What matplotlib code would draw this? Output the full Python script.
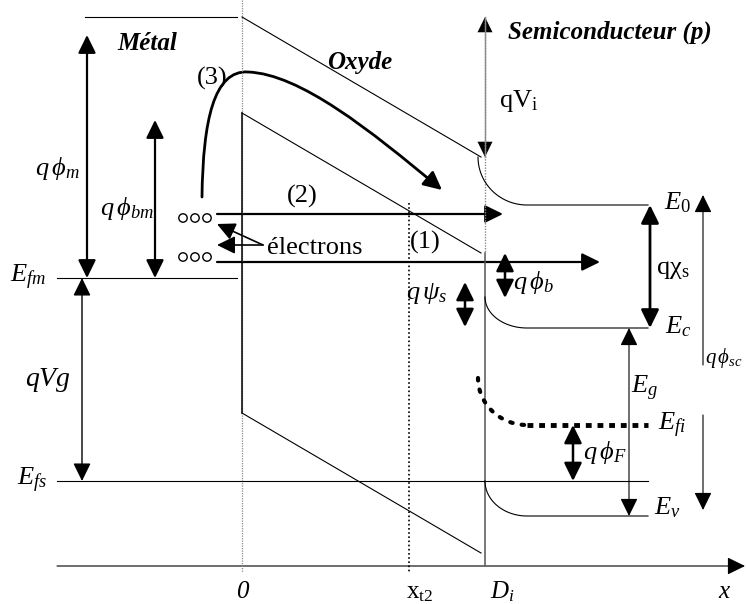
import numpy as np
import matplotlib
matplotlib.use("Agg")
import matplotlib.pyplot as plt
from matplotlib.patches import FancyArrowPatch
from matplotlib.path import Path

plt.rcParams["font.family"] = ["Liberation Serif", "DejaVu Serif"]
plt.rcParams["mathtext.fontset"] = "custom"
plt.rcParams["mathtext.rm"] = "Liberation Serif"
plt.rcParams["mathtext.it"] = "Liberation Serif:italic"
plt.rcParams["mathtext.bf"] = "Liberation Serif:bold"

# diagram coordinates (pixels, y going down)
x_int = [242, 485]          # metal/oxyde, oxyde/semiconducteur
x_t2 = 409
x_sc_end = 648
bend_width = 42

# metal
E_vac_metal = 17
E_fm = 278
E_fs = 481
# oxyde band edges at x=0 and x=Di
ox_top = [17, 157]
ox_mid = [113, 253]
ox_low = [413, 553]
# semiconductor levels : (value at interface, value in bulk)
sc_names = ["E0", "Ec", "Efi", "Ev"]
sc_surface = [157, 297, 378, 481]
sc_bulk = [205, 328, 425, 516]

# transport paths (2) and (1)
path_y = [214, 262]
path_end = [503, 600]

FS = 19
HEAD = "head_length=0.55,head_width=0.27"

fig = plt.figure(figsize=(7.47, 6.04), dpi=100)
ax = fig.add_axes([0, 0, 1, 1])
ax.set_xlim(0, 747)
ax.set_ylim(604, 0)
ax.axis("off")


def arrow(x0, y0, x1, y1, lw=1.0, both=False, color="k"):
    style = ("<|-|>," if both else "-|>,") + HEAD
    a = FancyArrowPatch((x0, y0), (x1, y1), arrowstyle=style, mutation_scale=20,
                        lw=lw, color=color, shrinkA=0, shrinkB=0)
    ax.add_patch(a)


def line(xs, ys, **kw):
    kw.setdefault("color", "k")
    kw.setdefault("lw", 0.8)
    ax.plot(xs, ys, **kw)


# guide lines
line([x_int[0], x_int[0]], [0, 572], color="#8a8a8a", lw=0.9, ls=(0, (1, 1)))
line([x_int[1], x_int[1]], [17, ox_mid[1]], color="#8a8a8a", lw=1.0, ls=(0, (1, 1)))
line([x_int[1], x_int[1]], [ox_mid[1], 565], color="#555555", lw=1.1)
line([x_t2, x_t2], [203, 573], lw=1.2, ls=(0, (1, 1.5)))

# metal
line([85, 237], [E_vac_metal] * 2)
line([57, 237], [E_fm] * 2)
line([57, x_sc_end], [E_fs] * 2)
line([x_int[0], x_int[0]], [ox_mid[0], ox_low[0]], lw=1.1)

# oxyde
for lv in (ox_top, ox_mid, ox_low):
    line([x_int[0], x_int[1] - 4], lv)

# semiconductor bands
th = np.linspace(0, np.pi / 2, 40)
for name, ys, yb in zip(sc_names, sc_surface, sc_bulk):
    x0 = x_int[1] - (7 if name in ("E0", "Efi") else 0)
    xs = x0 + (x_int[1] + bend_width - x0) * (1 - np.cos(th))
    ycurve = ys + (yb - ys) * np.sin(th)
    xs = np.r_[xs, x_sc_end]
    ycurve = np.r_[ycurve, yb]
    if name == "Efi":
        line(xs[:-1], ycurve[:-1], lw=3, ls=(0, (0.6, 2.2)), dash_capstyle="round")
        line([xs[-2], x_sc_end], [yb, yb], lw=3.5, ls=(0, (1.2, 1.2)))
    else:
        line(xs, ycurve)

# x axis
arrow(57, 566, 745, 566, lw=0.8)

# electrons
for yy in (218, 257):
    for xc in (183, 195, 207):
        ax.add_patch(plt.Circle((xc, yy), 4.2, fill=False, lw=1.0, color="k"))

# paths (2) and (1)
for yy, xe in zip(path_y, path_end):
    arrow(217, yy, xe, yy, lw=1.6)

# path (3)
verts = [(202, 197), (203, 120), (214, 70), (248, 72),
         (300, 74), (370, 130), (442, 190)]
codes = [Path.MOVETO, Path.CURVE4, Path.CURVE4, Path.CURVE4,
         Path.CURVE4, Path.CURVE4, Path.CURVE4]
p3 = FancyArrowPatch(path=Path(verts, codes), arrowstyle="-|>," + HEAD,
                     mutation_scale=20, lw=2.0, color="k")
ax.add_patch(p3)

# electrons pointer
arrow(263, 245, 217, 224, lw=1.2)
arrow(263, 245, 217, 245, lw=1.2)

# energy arrows
arrow(87, 35, 87, E_fm, lw=1.6, both=True)
arrow(155, 120, 155, E_fm, lw=1.6, both=True)
arrow(82, E_fm, 82, E_fs, lw=1.0, both=True)
line([x_int[1]] * 2, [17, 157], color="#8a8a8a", lw=1.0)
arrow(x_int[1], 34, x_int[1], 17, lw=0)
arrow(x_int[1], 140, x_int[1], 157, lw=0)
arrow(650, sc_bulk[0], 650, sc_bulk[1], lw=2.0, both=True)
arrow(703, 365, 703, 195, lw=0.8)
arrow(703, 415, 703, 510, lw=0.8)
arrow(629, sc_bulk[1], 629, sc_bulk[3], lw=0.8, both=True)
arrow(573, sc_bulk[2], 573, E_fs, lw=1.8, both=True)
arrow(505, 253, 505, 298, lw=1.8, both=True)
arrow(465, 282, 465, 327, lw=1.8, both=True)

# labels
ax.text(147, 43, "Métal", fontsize=18, fontweight="bold", style="italic", ha="center", va="center")
ax.text(360, 62, "Oxyde", fontsize=18, fontweight="bold", style="italic", ha="center", va="center")
ax.text(610, 32, "Semiconducteur (p)", fontsize=18, fontweight="bold", style="italic", ha="center", va="center")
ax.text(212, 78, "(3)", fontsize=FS, ha="center", va="center")
ax.text(302, 196, "(2)", fontsize=FS, ha="center", va="center")
ax.text(425, 242, "(1)", fontsize=FS, ha="center", va="center")
ax.text(267, 248, "électrons", fontsize=FS, ha="left", va="center")
ax.text(519, 101, r"$\mathrm{qV_i}$", fontsize=FS, ha="center", va="center")

ax.text(57, 168, r"$q\,\phi_m$", fontsize=FS, ha="center", va="center")
ax.text(127, 208, r"$q\,\phi_{bm}$", fontsize=FS, ha="center", va="center")
ax.text(28, 277, r"$E_{fm}$", fontsize=FS, ha="center", va="center")
ax.text(48, 380, r"$qVg$", fontsize=FS + 1, ha="center", va="center")
ax.text(32, 480, r"$E_{fs}$", fontsize=FS, ha="center", va="center")
ax.text(242, 592, "0", fontsize=FS - 1, style="italic", ha="center", va="center")
ax.text(420, 593, r"$\mathrm{x_{t2}}$", fontsize=FS - 1, ha="center", va="center")
ax.text(502, 592, r"$D_i$", fontsize=FS - 1, ha="center", va="center")
ax.text(725, 592, r"$x$", fontsize=FS - 1, ha="center", va="center")

ax.text(533, 283, r"$q\,\phi_b$", fontsize=FS, ha="center", va="center")
ax.text(427, 293, r"$q\,\psi_s$", fontsize=FS, ha="center", va="center")
ax.text(656, 270, r"$\mathrm{q\chi_s}$", fontsize=FS, ha="left", va="center")
ax.text(678, 203, r"$E_0$", fontsize=FS, ha="center", va="center")
ax.text(678, 327, r"$E_c$", fontsize=FS, ha="center", va="center")
ax.text(705, 358, r"$q\,\phi_{sc}$", fontsize=15, ha="left", va="center")
ax.text(645, 388, r"$E_g$", fontsize=FS, ha="center", va="center")
ax.text(672, 425, r"$E_{fi}$", fontsize=FS, ha="center", va="center")
ax.text(605, 453, r"$q\,\phi_F$", fontsize=FS, ha="center", va="center")
ax.text(667, 508, r"$E_v$", fontsize=FS, ha="center", va="center")

fig.savefig("out.png", dpi=100)
